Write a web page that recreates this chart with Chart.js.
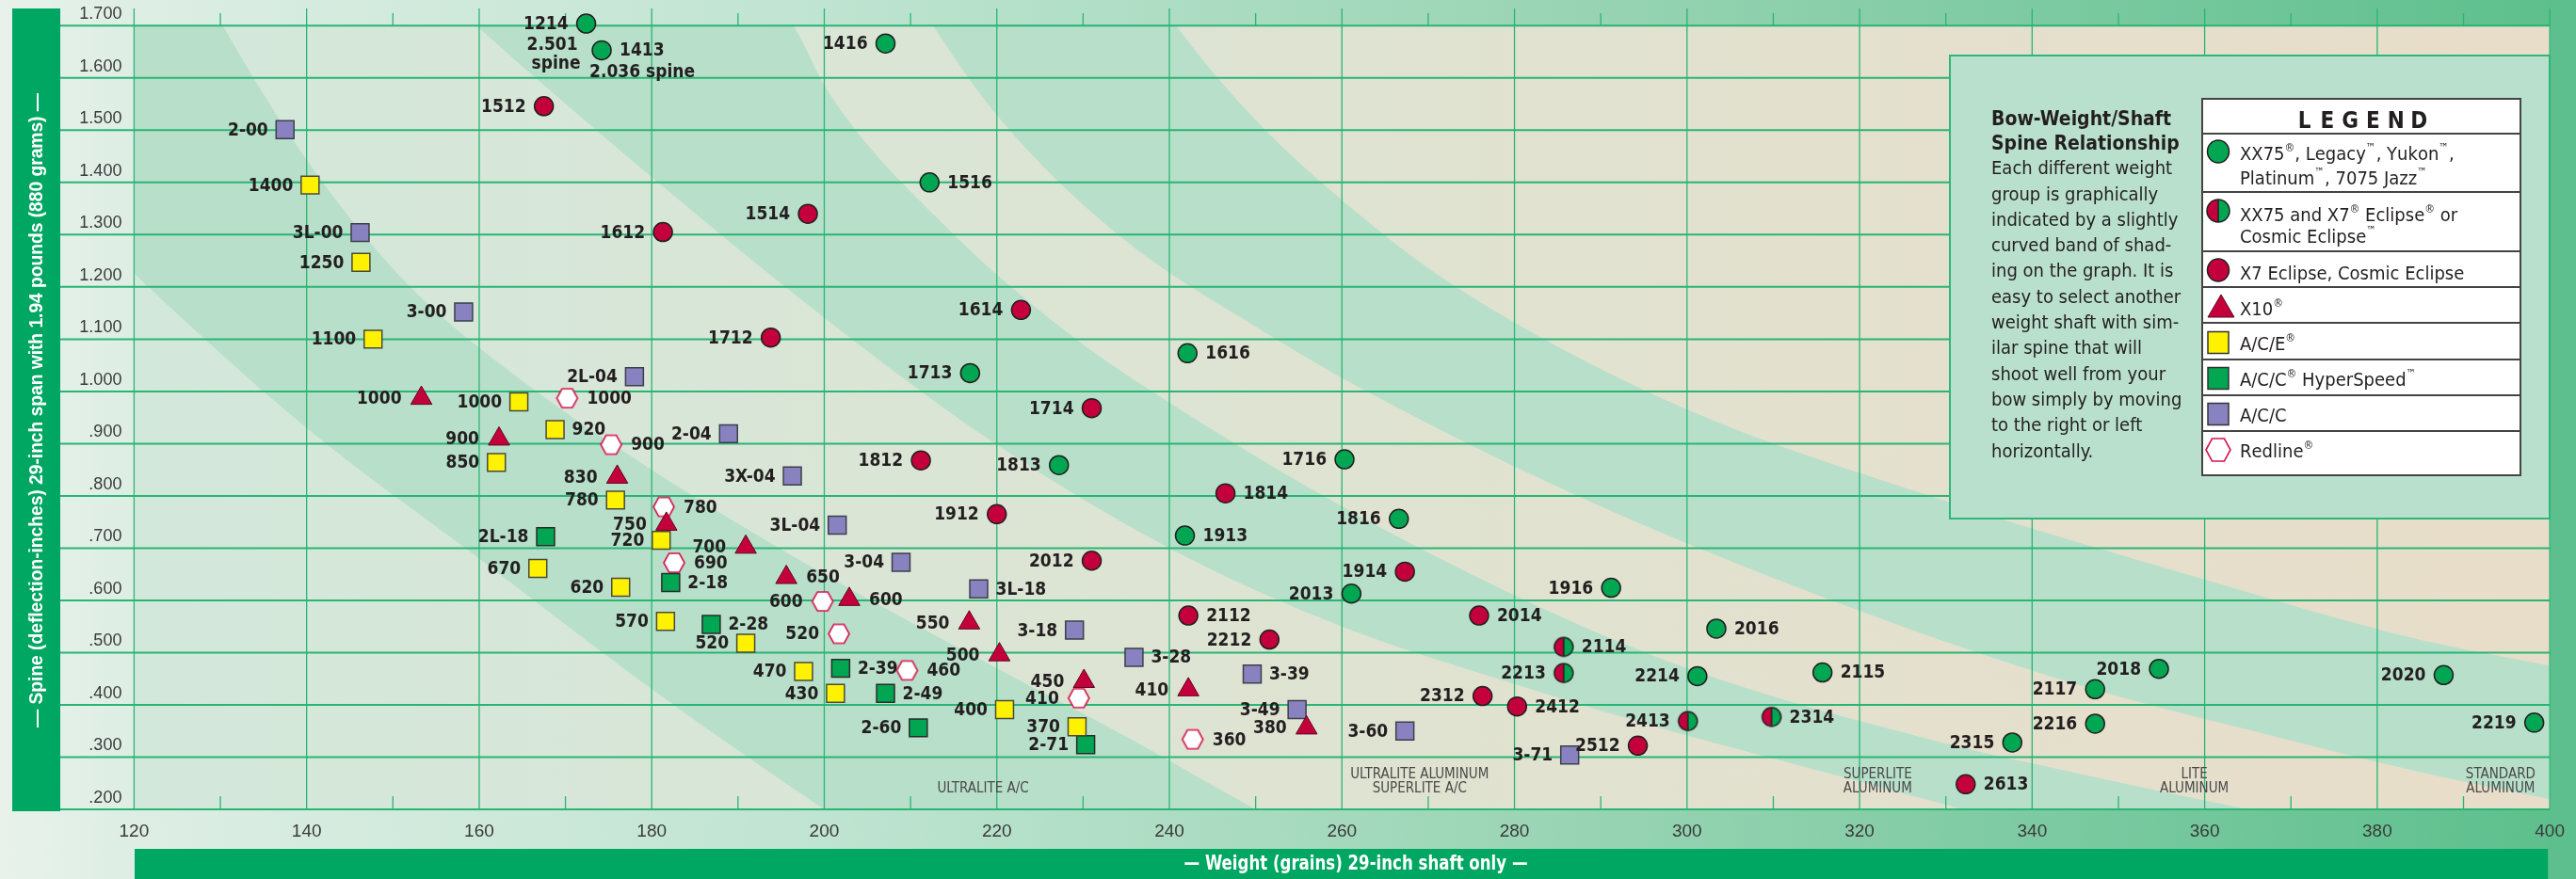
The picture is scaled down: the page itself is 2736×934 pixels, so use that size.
<!DOCTYPE html>
<html>
<head>
<meta charset="utf-8">
<title>Bow-Weight/Shaft Spine Relationship</title>
<script src="https://cdn.jsdelivr.net/npm/chart.js@4.4.1/dist/chart.umd.min.js"></script>
<style>
  html, body { margin: 0; padding: 0; background: #e6f1e9; }
  #wrap { width: 2736px; height: 934px; }
</style>
</head>
<body>
<div id="wrap"><canvas id="spineChart" width="2736" height="934"></canvas></div>
<script>
// ---- values: weight (grains) and spine (inches) ----
const weightTicks = [120, 140, 160, 180, 200, 220, 240, 260, 280, 300, 320, 340, 360, 380, 400];
const spineTicks = [0.2, 0.3, 0.4, 0.5, 0.6, 0.7, 0.8, 0.9, 1.0, 1.1, 1.2, 1.3, 1.4, 1.5, 1.6, 1.7];

// XX75, Legacy, Yukon, Platinum, 7075 Jazz
const xx75Names  = ['1214','1413','1416','1516','1713','1616','1813','1716','1913','1816','2013','1916','2016','2214','2115','2018','2117','2020','2216','2315','2219'];
const xx75Weight = [172.4, 174.2, 207.1, 212.2, 216.9, 242.1, 227.2, 260.3, 241.8, 266.6, 261.1, 291.2, 303.4, 301.2, 315.7, 354.7, 347.3, 387.7, 347.3, 337.7, 398.2];
const xx75Spine  = [1.704, 1.653, 1.666, 1.400, 1.035, 1.073, 0.859, 0.870, 0.724, 0.756, 0.613, 0.624, 0.546, 0.455, 0.462, 0.469, 0.430, 0.457, 0.364, 0.328, 0.366];

// XX75 and X7 Eclipse or Cosmic Eclipse
const comboNames  = ['2114','2213','2413','2314'];
const comboWeight = [285.7, 285.7, 300.1, 309.8];
const comboSpine  = [0.511, 0.461, 0.369, 0.377];

// X7 Eclipse, Cosmic Eclipse
const x7Names  = ['1512','1612','1514','1712','1614','1714','1812','1814','1912','2012','1914','2112','2212','2014','2312','2412','2512','2613'];
const x7Weight = [167.5, 181.3, 198.1, 193.8, 222.8, 231.0, 211.2, 246.5, 220.0, 231.0, 267.3, 242.2, 251.6, 275.9, 276.3, 280.3, 294.3, 332.3];
const x7Spine  = [1.546, 1.305, 1.340, 1.103, 1.156, 0.968, 0.868, 0.805, 0.765, 0.676, 0.655, 0.571, 0.525, 0.571, 0.417, 0.397, 0.322, 0.248];

// X10
const x10Names  = ['1000','900','830','750','700','650','600','550','500','450','410','380'];
const x10Weight = [153.3, 162.3, 176.0, 181.7, 190.9, 195.6, 202.9, 216.8, 220.3, 230.1, 242.2, 255.9];
const x10Spine  = [0.987, 0.909, 0.836, 0.746, 0.702, 0.644, 0.602, 0.557, 0.496, 0.445, 0.429, 0.356];

// A/C/E
const aceNames  = ['1400','1250','1100','1000','920','850','780','720','670','620','570','520','470','430','400','370'];
const aceWeight = [140.4, 146.3, 147.7, 164.6, 168.8, 162.0, 175.8, 181.1, 166.8, 176.4, 181.6, 190.9, 197.6, 201.3, 220.9, 229.3];
const aceSpine  = [1.395, 1.247, 1.100, 0.980, 0.927, 0.864, 0.792, 0.715, 0.661, 0.625, 0.560, 0.518, 0.464, 0.422, 0.391, 0.358];

// A/C/C HyperSpeed
const hyperNames  = ['2L-18','2-18','2-28','2-39','2-49','2-60','2-71'];
const hyperWeight = [167.7, 182.2, 186.9, 201.9, 207.1, 210.9, 230.3];
const hyperSpine  = [0.722, 0.634, 0.554, 0.470, 0.422, 0.356, 0.324];

// A/C/C
const accNames  = ['2-00','3L-00','3-00','2L-04','2-04','3X-04','3L-04','3-04','3L-18','3-18','3-28','3-39','3-49','3-60','3-71'];
const accWeight = [137.5, 146.2, 158.2, 178.0, 188.9, 196.3, 201.5, 208.9, 217.9, 229.0, 235.9, 249.6, 254.8, 267.3, 286.4];
const accSpine  = [1.501, 1.304, 1.152, 1.028, 0.919, 0.838, 0.744, 0.673, 0.622, 0.543, 0.491, 0.459, 0.391, 0.350, 0.304];

// Redline
const redlineNames  = ['1000','900','780','690','600','520','460','410','360'];
const redlineWeight = [170.2, 175.3, 181.4, 182.6, 199.8, 201.7, 209.6, 229.5, 242.7];
const redlineSpine  = [0.987, 0.898, 0.779, 0.672, 0.598, 0.536, 0.466, 0.413, 0.334];

// edges of the curved weight-group bands, [weight, spine], lower-left to upper-right
const bandEdge0 = [[110,1.39],[120,1.226],[140,0.93],[160,0.68],[180,0.43],[200,0.2],[215,0.04],[410,-1.6]];
const bandEdge1 = [[118,2.1],[130.3,1.7],[141,1.42],[152,1.2],[165,1.02],[180,0.85],[200,0.65],[220,0.47],[236,0.33],[250,0.2],[262,0.1],[410,-1.0]];
const bandEdge2 = [[140,2.0],[160,1.695],[180,1.41],[200.4,1.136],[219.2,0.907],[240,0.70],[260,0.55],[280,0.44],[299.4,0.344],[314.6,0.277],[332,0.2],[350,0.12],[410,-0.1]];
const bandEdge3 = [[180,2.05],[196.6,1.695],[200.4,1.575],[214.8,1.304],[229.2,1.1],[238,1.0],[260,0.78],[280,0.61],[300,0.47],[329,0.33],[345,0.27],[365,0.2],[410,0.05]];
const bandEdge4 = [[200,2.05],[212.6,1.7],[220.4,1.521],[234.2,1.298],[250.6,1.118],[263.1,0.998],[290,0.78],[320,0.58],[345,0.44],[368,0.34],[384,0.275],[400,0.22],[415,0.18]];
const bandEdge5 = [[225,2.1],[240.8,1.7],[250.6,1.509],[260.6,1.358],[272.5,1.208],[298.8,0.974],[330,0.79],[360,0.64],[383.6,0.53],[400,0.475],[415,0.43]];

const groupNames = [['ULTRALITE A/C'], ['ULTRALITE ALUMINUM', 'SUPERLITE A/C'], ['SUPERLITE', 'ALUMINUM'], ['LITE', 'ALUMINUM'], ['STANDARD', 'ALUMINUM']];
const groupWeight = [218.4, 269.0, 322.1, 358.8, 394.3];

// which labels sit to the right of their marker (the rest sit left)
const rightLabels = {
  xx75: ['1413','1516','1616','1913','2016','2115'],
  combo: ['2114','2314'],
  x7: ['1814','2112','2014','2412','2613'],
  x10: ['650','600'],
  ace: ['920'],
  hyper: ['2-18','2-28','2-39','2-49'],
  acc: ['3L-18','3-28','3-39'],
  redline: ['1000','900','780','690','460','360']
};

const infoLines = ['Each different weight', 'group is graphically', 'indicated by a slightly', 'curved band of shad-',
  'ing on the graph. It is', 'easy to select another', 'weight shaft with sim-', 'ilar spine that will',
  'shoot well from your', 'bow simply by moving', 'to the right or left', 'horizontally.'];

// ---- styles ----
const NARROW = '"Liberation Sans Narrow", "DejaVu Sans Condensed", "Liberation Sans", sans-serif';
const PLAIN = '"Liberation Sans", Arial, sans-serif';
const INK = '#231f20';
const GREEN = '#00a651';
const RED = '#c4003c';
const YELLOW = '#fff200';
const PURPLE = '#8883c0';
const HEX_RED = '#d5124d';
const BAND_GREEN = '#b8dfca';
const GRID = '#29b574';
const BAR_GREEN = '#00a762';

Chart.defaults.font.family = NARROW;

function pts(xs, ys) {
  return xs.map((x, i) => ({ x: x, y: ys[i] }));
}

function hexImage(w, h) {
  const c = document.createElement('canvas');
  c.width = w + 4; c.height = h + 4;
  const g = c.getContext('2d');
  const cx = c.width / 2, cy = c.height / 2;
  g.beginPath();
  g.moveTo(cx - w / 2, cy);
  g.lineTo(cx - w / 4, cy - h / 2);
  g.lineTo(cx + w / 4, cy - h / 2);
  g.lineTo(cx + w / 2, cy);
  g.lineTo(cx + w / 4, cy + h / 2);
  g.lineTo(cx - w / 4, cy + h / 2);
  g.closePath();
  g.fillStyle = '#fff'; g.fill();
  g.strokeStyle = HEX_RED; g.lineWidth = 1.6; g.stroke();
  return c;
}

function halfImage(d) {
  const c = document.createElement('canvas');
  c.width = d + 4; c.height = d + 4;
  const g = c.getContext('2d');
  const cx = c.width / 2, cy = c.height / 2, r = d / 2;
  g.beginPath(); g.moveTo(cx, cy); g.arc(cx, cy, r, Math.PI / 2, Math.PI * 1.5); g.closePath();
  g.fillStyle = RED; g.fill();
  g.beginPath(); g.moveTo(cx, cy); g.arc(cx, cy, r, -Math.PI / 2, Math.PI / 2); g.closePath();
  g.fillStyle = GREEN; g.fill();
  g.strokeStyle = INK; g.lineWidth = 1.5;
  g.beginPath(); g.arc(cx, cy, r, 0, Math.PI * 2); g.stroke();
  g.beginPath(); g.moveTo(cx, cy - r); g.lineTo(cx, cy + r); g.stroke();
  return c;
}

const hexMark = hexImage(22, 20);
const halfMark = halfImage(20);

let lightCache = null;
function lightFill(chart) {
  const a = chart.chartArea;
  if (!a) return '#dfe3d2';
  if (lightCache) return lightCache;
  const g = chart.ctx.createLinearGradient(a.left, 0, a.right, 0);
  g.addColorStop(0, '#d2e8db');
  g.addColorStop(0.25, '#d9e6d7');
  g.addColorStop(0.5, '#dfe3d1');
  g.addColorStop(0.75, '#e4e0cd');
  g.addColorStop(1, '#e8ddc9');
  lightCache = g;
  return g;
}

function bandLine(edge, color, order, last) {
  return {
    type: 'line',
    data: edge.map(p => ({ x: p[0], y: p[1] })),
    borderColor: 'rgba(0,0,0,0)',
    borderWidth: 1,
    pointRadius: 0,
    showLine: true,
    fill: 'end',
    backgroundColor: color,
    cubicInterpolationMode: 'monotone',
    order: order,
    lastBand: !!last
  };
}

function markSet(key, label, names, xs, ys, style) {
  return Object.assign({
    key: key, label: label, names: names,
    data: pts(xs, ys),
    order: 0,
    clip: false
  }, style);
}

const datasets = [
  markSet('xx75', 'XX75', xx75Names, xx75Weight, xx75Spine,
    { pointStyle: 'circle', pointRadius: 10, pointBackgroundColor: GREEN, pointBorderColor: INK, pointBorderWidth: 1.5, labelGap: 19 }),
  markSet('combo', 'XX75 and X7', comboNames, comboWeight, comboSpine,
    { pointStyle: halfMark, pointRadius: 10, labelGap: 19 }),
  markSet('x7', 'X7 Eclipse', x7Names, x7Weight, x7Spine,
    { pointStyle: 'circle', pointRadius: 10, pointBackgroundColor: RED, pointBorderColor: INK, pointBorderWidth: 1.5, labelGap: 19 }),
  markSet('x10', 'X10', x10Names, x10Weight, x10Spine,
    { pointStyle: 'triangle', pointRadius: 13, pointBackgroundColor: RED, pointBorderColor: '#5a0a1e', pointBorderWidth: 1, labelGap: 21 }),
  markSet('ace', 'A/C/E', aceNames, aceWeight, aceSpine,
    { pointStyle: 'rect', pointRadius: 13.4, pointBackgroundColor: YELLOW, pointBorderColor: '#4a4a3a', pointBorderWidth: 1.5, labelGap: 18 }),
  markSet('hyper', 'A/C/C HyperSpeed', hyperNames, hyperWeight, hyperSpine,
    { pointStyle: 'rect', pointRadius: 13.4, pointBackgroundColor: GREEN, pointBorderColor: '#2b2b2b', pointBorderWidth: 1.5, labelGap: 18 }),
  markSet('acc', 'A/C/C', accNames, accWeight, accSpine,
    { pointStyle: 'rect', pointRadius: 13.4, pointBackgroundColor: PURPLE, pointBorderColor: '#3e3e4a', pointBorderWidth: 1.5, labelGap: 18 }),
  markSet('redline', 'Redline', redlineNames, redlineWeight, redlineSpine,
    { pointStyle: hexMark, pointRadius: 11, labelGap: 21 }),
  bandLine(bandEdge0, BAND_GREEN, 15),
  bandLine(bandEdge1, c => lightFill(c.chart), 14),
  bandLine(bandEdge2, BAND_GREEN, 13),
  bandLine(bandEdge3, c => lightFill(c.chart), 12),
  bandLine(bandEdge4, BAND_GREEN, 11),
  bandLine(bandEdge5, c => lightFill(c.chart), 10, true)
];

function fmtSpine(v) {
  const s = v.toFixed(3);
  return v < 1 ? s.slice(1) : s;
}

// text with small raised ® and ™
function richText(ctx, text, x, y, size) {
  let cx = x;
  for (const ch of text) {
    if (ch === '®' || ch === '™') {
      ctx.font = Math.round(size * 0.6) + 'px ' + NARROW;
      ctx.fillText(ch, cx, y - size * 0.35);
      cx += ctx.measureText(ch).width;
      ctx.font = size + 'px ' + NARROW;
    } else {
      ctx.fillText(ch, cx, y);
      cx += ctx.measureText(ch).width;
    }
  }
}

const backdrop = {
  id: 'backdrop',
  beforeDraw(chart) {
    const ctx = chart.ctx;
    const a = chart.chartArea;
    ctx.save();
    const g = ctx.createLinearGradient(0, 0, 2736, 0);
    g.addColorStop(0, '#e8f2eb');
    g.addColorStop(0.05, '#deeee4');
    g.addColorStop(0.32, '#bfe4d1');
    g.addColorStop(0.65, '#93d2b0');
    g.addColorStop(1, '#5cbf8c');
    ctx.fillStyle = g;
    ctx.fillRect(0, 0, 2736, 934);
    ctx.fillStyle = '#5dbf8d';
    ctx.fillRect(a.right - 2, 0, 2736 - a.right + 2, 934);
    // plot base
    ctx.fillStyle = lightFill(chart);
    ctx.fillRect(a.left, a.top, a.right - a.left, a.bottom - a.top);
    // axis title bars
    ctx.fillStyle = BAR_GREEN;
    ctx.fillRect(13, 9, 51, 853);
    ctx.fillRect(143, 902, a.right - 2 - 143, 32);
    ctx.fillStyle = '#fff';
    ctx.textAlign = 'center';
    ctx.textBaseline = 'middle';
    ctx.font = 'bold 20px ' + PLAIN;
    ctx.save();
    ctx.translate(39, 436);
    ctx.rotate(-Math.PI / 2);
    ctx.fillText('\u2014 Spine (deflection-inches) 29-inch span with 1.94 pounds (880 grams) \u2014', 0, 0, 674);
    ctx.restore();
    ctx.font = 'bold 22px ' + NARROW;
    ctx.fillText('\u2014 Weight (grains) 29-inch shaft only \u2014', 1440, 918, 365);
    ctx.restore();
  },
  afterDatasetDraw(chart, args) {
    if (!chart.data.datasets[args.index].lastBand) return;
    const ctx = chart.ctx;
    const xs = chart.scales.x, ys = chart.scales.y;
    ctx.save();
    ctx.strokeStyle = GRID;
    ctx.lineWidth = 2;
    spineTicks.forEach(v => {
      const y = ys.getPixelForValue(v);
      ctx.beginPath(); ctx.moveTo(64, y); ctx.lineTo(xs.right, y); ctx.stroke();
    });
    ctx.lineWidth = 1.3;
    weightTicks.forEach(v => {
      const x = xs.getPixelForValue(v);
      ctx.beginPath(); ctx.moveTo(x, 9); ctx.lineTo(x, ys.bottom); ctx.stroke();
    });
    // short minor ticks between the labelled weights
    weightTicks.slice(0, -1).forEach(v => {
      const x = xs.getPixelForValue(v + 10);
      ctx.beginPath(); ctx.moveTo(x, 14); ctx.lineTo(x, ys.top); ctx.stroke();
      ctx.beginPath(); ctx.moveTo(x, ys.bottom - 14); ctx.lineTo(x, ys.bottom); ctx.stroke();
    });
    // weight group names along the bottom
    ctx.fillStyle = '#4a4a4a';
    ctx.font = '15px ' + NARROW;
    ctx.textAlign = 'center';
    ctx.textBaseline = 'middle';
    groupNames.forEach((lines, i) => {
      const x = xs.getPixelForValue(groupWeight[i]);
      const y0 = ys.getPixelForValue(0.24) - (lines.length - 1) * 15;
      lines.forEach((t, k) => ctx.fillText(t, x, y0 + k * 15));
    });
    ctx.restore();
  },
  afterDatasetsDraw(chart) {
    const ctx = chart.ctx;
    ctx.save();
    ctx.font = 'bold 19px ' + NARROW;
    ctx.fillStyle = INK;
    ctx.textBaseline = 'middle';
    chart.data.datasets.forEach((ds, i) => {
      if (!ds.names) return;
      const meta = chart.getDatasetMeta(i);
      const right = rightLabels[ds.key] || [];
      ds.names.forEach((name, j) => {
        const el = meta.data[j];
        const onRight = right.includes(name);
        ctx.textAlign = onRight ? 'left' : 'right';
        ctx.fillText(name, el.x + (onRight ? ds.labelGap : -ds.labelGap), el.y + 1);
      });
    });
    // off-scale spine notes for the two stiffest shafts
    const xxMeta = chart.getDatasetMeta(0);
    const p1214 = xxMeta.data[xx75Names.indexOf('1214')];
    const p1413 = xxMeta.data[xx75Names.indexOf('1413')];
    ctx.textAlign = 'center';
    ctx.fillText('2.501', p1214.x - 36, p1214.y + 23);
    ctx.fillText('spine', p1214.x - 32, p1214.y + 43);
    ctx.textAlign = 'left';
    ctx.fillText('2.036 spine', p1413.x - 13, p1413.y + 24);
    ctx.restore();
  },
  afterDraw(chart) {
    const ctx = chart.ctx;
    ctx.save();
    // info panel
    ctx.fillStyle = '#b9e0cc';
    ctx.fillRect(2071, 59, 637, 492);
    ctx.strokeStyle = '#2db67a';
    ctx.lineWidth = 2;
    ctx.strokeRect(2071, 59, 637, 492);
    ctx.fillStyle = INK;
    ctx.textAlign = 'left';
    ctx.textBaseline = 'middle';
    ctx.font = 'bold 21px ' + NARROW;
    ctx.fillText('Bow-Weight/Shaft', 2115, 128);
    ctx.fillText('Spine Relationship', 2115, 154);
    ctx.font = '20px ' + NARROW;
    infoLines.forEach((t, i) => ctx.fillText(t, 2115, 180 + i * 27.3));

    // legend table
    const L = 2339, R = 2677, T = 105, B = 505;
    ctx.fillStyle = '#fff';
    ctx.fillRect(L, T, R - L, B - T);
    ctx.strokeStyle = '#444';
    ctx.lineWidth = 2;
    ctx.strokeRect(L, T, R - L, B - T);
    [142, 204, 267, 305, 343, 382, 420, 458].forEach(y => {
      ctx.beginPath(); ctx.moveTo(L, y); ctx.lineTo(R, y); ctx.stroke();
    });
    ctx.fillStyle = INK;
    ctx.textAlign = 'center';
    ctx.font = 'bold 24px ' + NARROW;
    'LEGEND'.split('').forEach((ch, i) => ctx.fillText(ch, 2447.6 + i * 24.3, 130));

    const mx = 2356;
    ctx.strokeStyle = INK;
    ctx.lineWidth = 1.5;
    // green circle
    ctx.fillStyle = GREEN;
    ctx.beginPath(); ctx.ellipse(mx, 161, 11.5, 12, 0, 0, Math.PI * 2); ctx.fill(); ctx.stroke();
    // half and half
    ctx.drawImage(halfImage(24), mx - 14, 224 - 14);
    // red circle
    ctx.fillStyle = RED;
    ctx.beginPath(); ctx.ellipse(mx, 287, 11.5, 12, 0, 0, Math.PI * 2); ctx.fill(); ctx.stroke();
    // triangle
    ctx.fillStyle = RED;
    ctx.strokeStyle = '#5a0a1e';
    ctx.lineWidth = 1;
    ctx.beginPath(); ctx.moveTo(mx + 3, 313); ctx.lineTo(mx + 17, 337); ctx.lineTo(mx - 11, 337); ctx.closePath(); ctx.fill(); ctx.stroke();
    // squares
    ctx.lineWidth = 1.5;
    [[364, YELLOW], [402, GREEN], [440, PURPLE]].forEach(s => {
      ctx.fillStyle = s[1];
      ctx.strokeStyle = '#333';
      ctx.fillRect(mx - 11, s[0] - 11.5, 22, 23);
      ctx.strokeRect(mx - 11, s[0] - 11.5, 22, 23);
    });
    ctx.drawImage(hexImage(26, 24), mx - 15, 478 - 14);

    ctx.fillStyle = INK;
    ctx.textAlign = 'left';
    ctx.font = '20px ' + NARROW;
    const tx = 2379;
    richText(ctx, 'XX75®, Legacy™, Yukon™,', tx, 165, 20);
    richText(ctx, 'Platinum™, 7075 Jazz™', tx, 191, 20);
    richText(ctx, 'XX75 and X7® Eclipse® or', tx, 230, 20);
    richText(ctx, 'Cosmic Eclipse™', tx, 253, 20);
    richText(ctx, 'X7 Eclipse, Cosmic Eclipse', tx, 292, 20);
    richText(ctx, 'X10®', tx, 330, 20);
    richText(ctx, 'A/C/E®', tx, 367, 20);
    richText(ctx, 'A/C/C® HyperSpeed™', tx, 405, 20);
    richText(ctx, 'A/C/C', tx, 443, 20);
    richText(ctx, 'Redline®', tx, 481, 20);
    ctx.restore();
  }
};

new Chart(document.getElementById('spineChart'), {
  type: 'scatter',
  data: { datasets: datasets },
  options: {
    responsive: false,
    animation: false,
    devicePixelRatio: 1,
    events: [],
    layout: { padding: { top: 27.3, right: 26, bottom: 0, left: 0 } },
    elements: { line: { capBezierPoints: false } },
    plugins: {
      legend: { display: false },
      tooltip: { enabled: false },
      title: { display: false }
    },
    scales: {
      x: {
        type: 'linear',
        min: 120,
        max: 400,
        afterBuildTicks: s => { s.ticks = weightTicks.map(v => ({ value: v })); },
        afterFit: s => { s.height = 74; },
        grid: { display: false, drawTicks: false },
        border: { display: false },
        ticks: { padding: 12, color: '#3a3a3a', font: { family: PLAIN, size: 19 }, maxRotation: 0 }
      },
      y: {
        type: 'linear',
        min: 0.2,
        max: 1.7,
        afterBuildTicks: s => { s.ticks = spineTicks.map(v => ({ value: v })); },
        afterFit: s => { s.width = 142.4; },
        grid: { display: false, drawTicks: false },
        border: { display: false },
        ticks: { padding: 13, labelOffset: -12, color: '#3a3a3a', font: { family: PLAIN, size: 18 }, callback: v => fmtSpine(v) }
      }
    }
  },
  plugins: [backdrop]
});
</script>
</body>
</html>
